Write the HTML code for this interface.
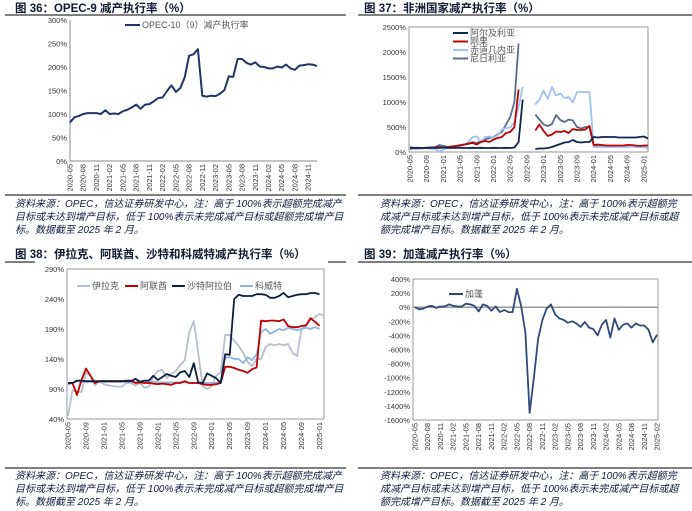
<!DOCTYPE html>
<html><head><meta charset="utf-8">
<style>
body{margin:0;background:#fff;}
svg{display:block;font-family:"Liberation Sans","Noto Sans CJK SC",sans-serif;}
.t{font-size:11.5px;fill:#111a33;font-weight:bold;}
.s{font-size:10px;fill:#0f1a40;font-style:italic;}
.ax{font-size:7.5px;fill:#333;}
.lg{font-size:9px;fill:#555;}
</style></head><body>
<svg id="root" width="692" height="511" viewBox="0 0 692 511">
<g>
<text class="t" x="15" y="12">图 36：OPEC-9 减产执行率（%）</text>
<text class="t" x="364" y="12">图 37：非洲国家减产执行率（%）</text>
<text class="t" x="15" y="258">图 38：伊拉克、阿联酋、沙特和科威特减产执行率（%）</text>
<text class="t" x="364" y="258">图 39：加蓬减产执行率（%）</text>
</g>
<g stroke="#000" stroke-width="1">
<line x1="5" y1="15" x2="346" y2="15"/><line x1="358" y1="15" x2="692" y2="15"/>
<line x1="5" y1="195" x2="346" y2="195"/><line x1="358" y1="195" x2="692" y2="195"/>
<line x1="5" y1="262" x2="35" y2="262"/><line x1="328" y1="262" x2="346" y2="262"/><line x1="358" y1="262" x2="692" y2="262"/>
<line x1="5" y1="468" x2="346" y2="468"/><line x1="358" y1="468" x2="692" y2="468"/>
</g>
<g>
<text class="s" x="15" y="207">资料来源：OPEC，信达证券研发中心，注：高于 100%表示超额完成减产</text>
<text class="s" x="15" y="220">目标或未达到增产目标，低于 100%表示未完成减产目标或超额完成增产目</text>
<text class="s" x="15" y="233">标。数据截至 2025 年 2 月。</text>
<text class="s" x="380" y="207">资料来源：OPEC，信达证券研发中心，注：高于 100%表示超额完</text>
<text class="s" x="380" y="220">成减产目标或未达到增产目标，低于 100%表示未完成减产目标或超</text>
<text class="s" x="380" y="233">额完成增产目标。数据截至 2025 年 2 月。</text>
<text class="s" x="15" y="479">资料来源：OPEC，信达证券研发中心，注：高于 100%表示超额完成减产</text>
<text class="s" x="15" y="492">目标或未达到增产目标，低于 100%表示未完成减产目标或超额完成增产目</text>
<text class="s" x="15" y="505">标。数据截至 2025 年 2 月。</text>
<text class="s" x="380" y="479">资料来源：OPEC，信达证券研发中心，注：高于 100%表示超额完</text>
<text class="s" x="380" y="492">成减产目标或未达到增产目标，低于 100%表示未完成减产目标或超</text>
<text class="s" x="380" y="505">额完成增产目标。数据截至 2025 年 2 月。</text>
</g>
</svg>
<script>
// ---- data ----
const opec9 = [82,93,96,100,102,102,102,100,108,100,101,100,106,109,114,120,111,120,121,127,134,135,149,161,147,155,178,224,227,238,139,137,139,138,143,151,180,179,217,217,209,205,210,201,200,197,197,201,199,205,197,194,203,204,206,205,202];
const opec9Ticks = [0,50,100,150,200,250,300];

const algeria = [90,85,85,80,80,85,85,80,90,85,80,85,85,80,80,85,80,85,80,80,85,80,80,85,80,90,200,1050,null,null,60,70,70,80,100,130,160,190,200,240,200,190,200,200,300,290,300,300,300,300,290,290,290,290,290,300,310,270];
const congo = [80,80,80,80,80,90,90,100,90,100,110,120,130,150,170,180,150,200,220,200,250,280,300,380,400,500,1250,null,null,null,430,550,420,320,350,410,400,420,380,460,440,440,450,520,140,150,140,130,130,130,130,130,140,140,130,120,130,130];
const eqGuinea = [100,60,60,70,80,60,60,10,50,80,100,110,130,140,200,300,310,200,300,310,290,330,450,480,490,600,900,1300,null,null,950,1050,1230,1060,1300,1130,1170,1080,1100,990,1200,1200,1200,1200,100,100,100,100,100,100,100,100,100,110,100,100,90,90];
const nigeria = [60,70,80,80,90,90,100,140,120,100,110,120,140,150,160,200,180,220,250,280,300,350,400,550,700,1000,2170,null,null,null,750,650,550,520,560,740,640,600,650,630,500,470,500,500,120,110,110,110,110,100,110,110,110,110,100,110,100,80];
const africaTicks = [0,500,1000,1500,2000,2500];

const iraq = [45,88,85,85,117,112,96,103,98,96,95,94,94,100,100,96,100,92,94,110,120,122,108,115,120,130,138,185,203,150,95,90,95,112,118,180,180,170,162,150,135,128,140,140,160,165,163,165,163,165,150,145,190,195,205,210,215,213];
const uae = [100,100,80,105,124,112,100,103,103,103,103,103,103,104,104,100,101,100,100,99,98,99,98,97,100,100,103,100,100,100,98,97,97,98,100,127,127,125,122,120,117,123,126,204,203,204,204,203,206,195,193,193,195,196,208,202,195];
const saudi = [100,100,104,104,103,103,103,103,103,103,103,103,103,103,103,107,102,104,104,112,105,110,115,112,110,118,120,110,133,101,100,116,112,108,100,148,147,240,247,245,245,245,248,248,247,242,242,245,250,243,245,247,248,248,250,250,248];
const kuwait = [97,100,103,102,102,102,102,102,102,102,102,102,102,102,102,102,102,102,102,102,101,101,101,101,101,101,101,100,100,100,100,100,100,100,103,142,143,140,140,133,143,138,148,185,190,182,186,190,188,192,190,188,190,192,190,193,190];
const gulfTicks = [40,90,140,190,240,290];

const gabon = [0,-30,-20,10,20,-10,10,10,40,20,10,10,50,40,20,-60,40,20,-50,10,-70,-40,-70,-70,260,20,-360,-1500,-1000,-450,-180,-20,40,-100,-160,-180,-220,-200,-230,-280,-210,-290,-310,-400,-250,-180,-430,-160,-320,-250,-230,-290,-230,-260,-260,-320,-500,-390];
const gabonTicks = [-1600,-1400,-1200,-1000,-800,-600,-400,-200,0,200,400];

// ---- helpers ----
const NS='http://www.w3.org/2000/svg';
const root=document.getElementById('root');
function mk(tag,attrs,parent){const e=document.createElementNS(NS,tag);for(const k in attrs)e.setAttribute(k,attrs[k]);(parent||root).appendChild(e);return e;}
function monthLabel(i){const m=4+i;const y=2020+Math.floor(m/12);return y+'-'+String(m%12+1).padStart(2,'0');}

function chart(cfg){
  const g=mk('g',{});
  
  
  const {x0,x1,y0,y1,vmin,vmax,n}=cfg;
  const sx=i=>x0+i*(x1-x0)/(n-1);
  const sy=v=>y1-(v-vmin)/(vmax-vmin)*(y1-y0);
  const plot=mk('rect',{x:cfg.px0||x0,y:y0,width:(cfg.px1||x1)-(cfg.px0||x0),height:y1-y0,fill:'none',stroke:cfg.box?'#999':'none','stroke-width':1},g);
  
  
  if(!cfg.box){
    const ax=mk('path',{d:`M${cfg.px0||x0},${y0}V${y1}H${cfg.px1||x1}`,fill:'none',stroke:'#888','stroke-width':1},g);
    
    
  }
  cfg.ticks.forEach(t=>{
    const tx=mk('text',{x:(cfg.px0||x0)-3,y:sy(t)+3,'text-anchor':'end',class:'ax','font-size':cfg.fs||7.5},g);
    
    
    tx.textContent=t+'%';
  });
  if(cfg.zero){
    const z=mk('line',{x1:cfg.px0||x0,x2:cfg.px1||x1,y1:sy(0),y2:sy(0),stroke:'#999','stroke-width':1.5},g);
    
    
  }
  for(let i=0;i<cfg.labelCount;i+=cfg.step){
    const lx=sx(i)+2.5, ly=y1+3;
    const tx=mk('text',{x:lx,y:ly,'text-anchor':'end',class:'ax','font-size':cfg.fs||7.5,transform:`rotate(-90 ${lx} ${ly})`},g);
    
    
    tx.textContent=monthLabel(i);
  }
  cfg.series.forEach(s=>{
    let d='',pen=false;
    s.data.forEach((v,i)=>{if(v===null){pen=false;return;}d+=(pen?'L':'M')+sx(i).toFixed(1)+','+sy(v).toFixed(1);pen=true;});
    const p=mk('path',{d,fill:'none',stroke:s.color,'stroke-width':s.w||1.8,'stroke-linejoin':'round'},g);
    
    
  });
  cfg.legend.forEach(l=>{
    const ln=mk('line',{x1:l.x,x2:l.x+l.len,y1:l.y,y2:l.y,stroke:l.color,'stroke-width':2},g);
    
    
    const tx=mk('text',{x:l.x+l.len+2,y:l.y+3,class:'lg','font-size':l.fs||9},g);
    
    
    tx.textContent=l.text;
  });
}

chart({name:'chart-opec9',x0:70,x1:317,y0:20,y1:161,vmin:0,vmax:300,n:opec9.length,ticks:opec9Ticks,labelCount:opec9.length,step:3,fs:8,
  series:[{key:'opec9',data:opec9,color:'#1f3468',w:2}],
  legend:[{x:125,y:25,len:15,color:'#1f3468',text:'OPEC-10（9）减产执行率',fs:8.5}]});

chart({name:'chart-africa',x0:410,x1:648,px0:409,px1:648,y0:27,y1:152,vmin:0,vmax:2500,n:algeria.length,ticks:africaTicks,labelCount:algeria.length,step:4,fs:7,box:true,
  series:[{key:'nigeria',data:nigeria,color:'#5b6b8c'},{key:'eq-guinea',data:eqGuinea,color:'#9dc3f0'},{key:'congo',data:congo,color:'#c00000'},{key:'algeria',data:algeria,color:'#0f2452'}],
  legend:[{x:453,y:33,len:15,color:'#0f2452',text:'阿尔及利亚',fs:7},{x:453,y:41.5,len:15,color:'#c00000',text:'刚果',fs:7},{x:453,y:50,len:15,color:'#9dc3f0',text:'赤道几内亚',fs:7},{x:453,y:58.5,len:15,color:'#5b6b8c',text:'尼日利亚',fs:7}]});

chart({name:'chart-gulf',x0:68,x1:324,px0:67,px1:324,y0:269,y1:419,vmin:40,vmax:290,n:iraq.length,ticks:gulfTicks,labelCount:iraq.length,step:4,fs:8,box:true,
  series:[{key:'iraq',data:iraq,color:'#b7bfcc'},{key:'kuwait',data:kuwait,color:'#8eb4e3'},{key:'uae',data:uae,color:'#c00000'},{key:'saudi',data:saudi,color:'#0d1f3f'}],
  legend:[{x:77,y:286,len:13,color:'#b7bfcc',text:'伊拉克',fs:10},{x:125,y:286,len:13,color:'#c00000',text:'阿联酋',fs:10},{x:172,y:286,len:13,color:'#0d1f3f',text:'沙特阿拉伯',fs:10},{x:240,y:286,len:13,color:'#8eb4e3',text:'科威特',fs:10}]});

chart({name:'chart-gabon',x0:415,x1:657,px0:413,px1:658,y0:279,y1:420,vmin:-1600,vmax:400,n:gabon.length,ticks:gabonTicks,labelCount:gabon.length,step:3,fs:7,box:true,zero:true,
  series:[{key:'gabon',data:gabon,color:'#2f4a7a'}],
  legend:[{x:449,y:294,len:14,color:'#2f4a7a',text:'加蓬',fs:9}]});
</script>
</body></html>
